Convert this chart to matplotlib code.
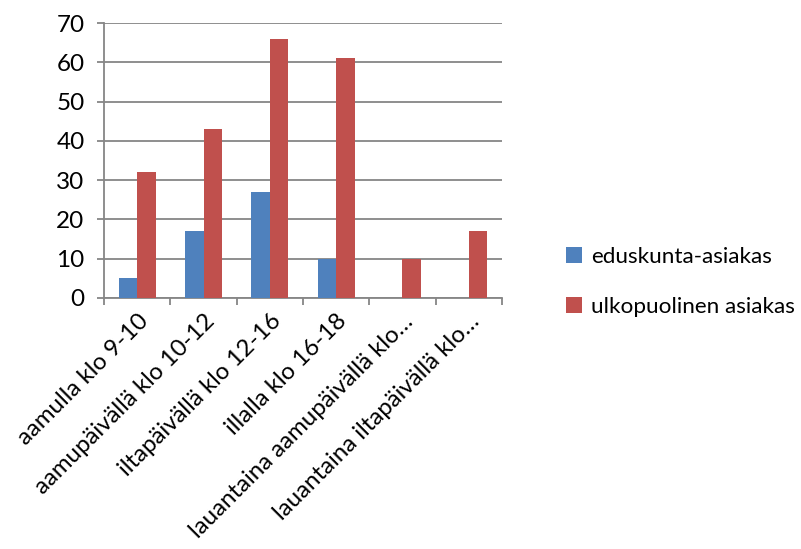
import matplotlib
matplotlib.use('Agg')
import matplotlib.pyplot as plt
import numpy as np

plt.rcParams['font.family'] = ['Lato', 'DejaVu Sans']

categories = ['aamulla klo 9-10', 'aamupäivällä klo 10-12', 'iltapäivällä klo 12-16',
	'illalla klo 16-18', 'lauantaina aamupäivällä klo…', 'lauantaina iltapäivällä klo…']
eduskunta = [5, 17, 27, 10, 0, 0]
ulkopuolinen = [32, 43, 66, 61, 10, 17]
series_names = ['eduskunta-asiakas', 'ulkopuolinen asiakas']
colors = ['#4F81BD', '#C0504D']
grid_color = '#868686'

fig = plt.figure(figsize=(8.01, 5.49), dpi=100)
ax = fig.add_axes([104/801, 1-298/549, 398/801, 275/549])

x = np.arange(len(categories))
w = 0.28
ax.bar(x - w/2, eduskunta, w, color=colors[0], label=series_names[0], zorder=3)
ax.bar(x + w/2, ulkopuolinen, w, color=colors[1], label=series_names[1], zorder=3)

ax.set_xlim(-0.5, len(categories) - 0.5)
ax.set_ylim(0, 70)
ax.set_yticks(range(0, 71, 10))
ax.yaxis.grid(True, color=grid_color, linewidth=1.3, zorder=0)

ax.set_xticks(np.arange(-0.5, len(categories), 1.0))
ax.set_xticklabels([])
ax.set_xticks(x, minor=True)
ax.set_xticklabels(categories, minor=True, rotation=45, ha='right', va='top',
	rotation_mode='anchor', fontsize=17.3)
ax.tick_params(axis='x', which='minor', length=0, pad=9)
ax.tick_params(axis='x', which='major', length=5, width=1.3, color=grid_color, direction='out')
ax.tick_params(axis='y', length=5, width=1.3, color=grid_color, labelsize=17.5, pad=9)

for side in ['top', 'right']:
	ax.spines[side].set_visible(False)
for side in ['left', 'bottom']:
	ax.spines[side].set_color(grid_color)
	ax.spines[side].set_linewidth(1.3)

fig.legend(loc='center left', bbox_to_anchor=(546/801, 1-282/549), frameon=False,
	fontsize=16.2, handlelength=0.7, handleheight=0.7, handletextpad=0.4, labelspacing=1.35)

fig.savefig('out.png', dpi=100)
